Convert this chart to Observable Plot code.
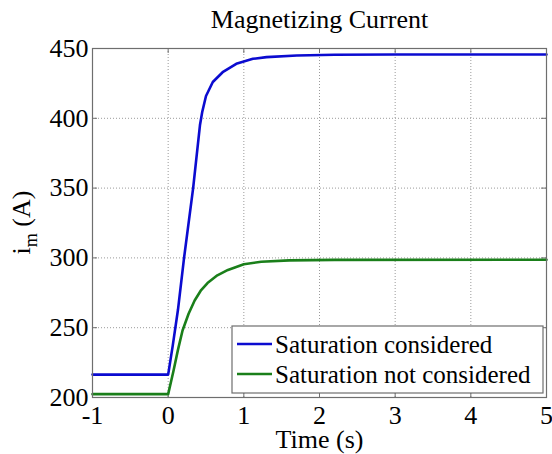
<!DOCTYPE html>
<html>
<head>
<meta charset="utf-8">
<script src="https://cdn.jsdelivr.net/npm/d3@7"></script>
<script src="https://cdn.jsdelivr.net/npm/@observablehq/plot@0.6"></script>
<style>
  html, body { margin: 0; padding: 0; background: #fff; }
  #chart svg { display: block; }
</style>
</head>
<body>
<div id="chart"></div>
<script>
const titleText = "Magnetizing Current";
const xLabelText = "Time (s)";
const seriesNames = ["Saturation considered", "Saturation not considered"];
const seriesColors = ["#0b0bd0", "#1a7f1a"];

const xTicks = [-1, 0, 1, 2, 3, 4, 5];
const yTicks = [200, 250, 300, 350, 400, 450];

// Saturation considered (blue)
const satTime = [-1, 0, 0.06, 0.13, 0.21, 0.33, 0.42, 0.45, 0.5, 0.59, 0.72, 0.9, 1.12, 1.3, 1.7, 2.2, 3, 5];
const satCurrent = [216.4, 216.4, 237, 263, 300, 350, 395, 404.5, 416, 426, 433, 439, 442.6, 443.8, 445, 445.5, 445.7, 445.7];

// Saturation not considered (green)
const noSatTime = [-1, 0, 0.07, 0.13, 0.19, 0.27, 0.35, 0.43, 0.52, 0.65, 0.79, 1.0, 1.23, 1.6, 2.2, 5];
const noSatCurrent = [202.4, 202.4, 219, 234.3, 248, 260, 269.5, 276.5, 282, 287.5, 291.4, 295.5, 297.2, 298.2, 298.6, 298.7];

const sat = satTime.map((t, i) => ({t, v: satCurrent[i]}));
const noSat = noSatTime.map((t, i) => ({t, v: noSatCurrent[i]}));

const xDomain = [-1, 5];
const yDomain = [200, 450];
const tx = (xDomain[1] - xDomain[0]) * 0.011;
const ty = (yDomain[1] - yDomain[0]) * 0.0143;

const W = 552, H = 454;
const mL = 92, mR = 6, mT = 48, mB = 57;
const font = "'Liberation Serif', 'Times New Roman', serif";
const axisColor = "#6e6e6e";

const chart = Plot.plot({
  width: W,
  height: H,
  marginLeft: mL,
  marginRight: mR,
  marginTop: mT,
  marginBottom: mB,
  style: { fontFamily: font, fontSize: "26px", background: "#fff", color: "#000" },
  x: { domain: xDomain, label: null },
  y: { domain: yDomain, label: null },
  marks: [
    Plot.gridX(xTicks, { stroke: "#9a9a9a", strokeOpacity: 1, strokeDasharray: "1,2" }),
    Plot.gridY(yTicks, { stroke: "#9a9a9a", strokeOpacity: 1, strokeDasharray: "1,2" }),
    Plot.ruleX(xTicks, { y1: yDomain[0], y2: yDomain[0] + ty, stroke: axisColor }),
    Plot.ruleX(xTicks, { y1: yDomain[1], y2: yDomain[1] - ty, stroke: axisColor }),
    Plot.ruleY(yTicks, { x1: xDomain[0], x2: xDomain[0] + tx, stroke: axisColor }),
    Plot.ruleY(yTicks, { x1: xDomain[1], x2: xDomain[1] - tx, stroke: axisColor }),
    Plot.line(sat, { x: "t", y: "v", stroke: seriesColors[0], strokeWidth: 2.6 }),
    Plot.line(noSat, { x: "t", y: "v", stroke: seriesColors[1], strokeWidth: 2.6 }),
    Plot.frame({ stroke: axisColor, strokeWidth: 1.2 }),
    Plot.axisX(xTicks, { tickSize: 0, tickPadding: 8, tickFormat: d => String(d), fontSize: 26, label: null }),
    Plot.axisY(yTicks, { tickSize: 0, tickPadding: 4, tickFormat: d => String(d), fontSize: 26, label: null }),
    Plot.text([titleText], { frameAnchor: "top", lineAnchor: "bottom", dy: -21, fontSize: 26, fill: "#000" }),
    Plot.text([xLabelText], { frameAnchor: "bottom", lineAnchor: "bottom", dy: 50, fontSize: 26, fill: "#000" })
  ]
});

document.getElementById("chart").appendChild(chart);

const svg = d3.select(chart);

// y-axis label with subscript
const yl = svg.append("text")
  .attr("transform", `translate(30,${mT + (H - mT - mB) / 2}) rotate(-90)`)
  .attr("text-anchor", "middle")
  .attr("font-family", font)
  .attr("font-size", 26)
  .attr("fill", "#000");
yl.append("tspan").text("i");
yl.append("tspan").attr("font-size", 18).attr("dy", 7).text("m");
yl.append("tspan").attr("dy", -7).text(" (A)");

// legend
const lg = svg.append("g")
  .attr("font-family", font)
  .attr("font-size", 25)
  .attr("text-anchor", "start");
lg.append("rect")
  .attr("x", 232).attr("y", 326).attr("width", 311).attr("height", 67)
  .attr("fill", "#fff").attr("stroke", axisColor).attr("stroke-width", 1.2);
seriesNames.forEach((name, i) => {
  const cy = 344 + i * 30;
  lg.append("line")
    .attr("x1", 237).attr("x2", 272).attr("y1", cy).attr("y2", cy)
    .attr("stroke", seriesColors[i]).attr("stroke-width", 2.6);
  lg.append("text")
    .attr("x", 275).attr("y", cy + 9)
    .attr("text-anchor", "start")
    .attr("fill", "#000")
    .text(name);
});
</script>
</body>
</html>
